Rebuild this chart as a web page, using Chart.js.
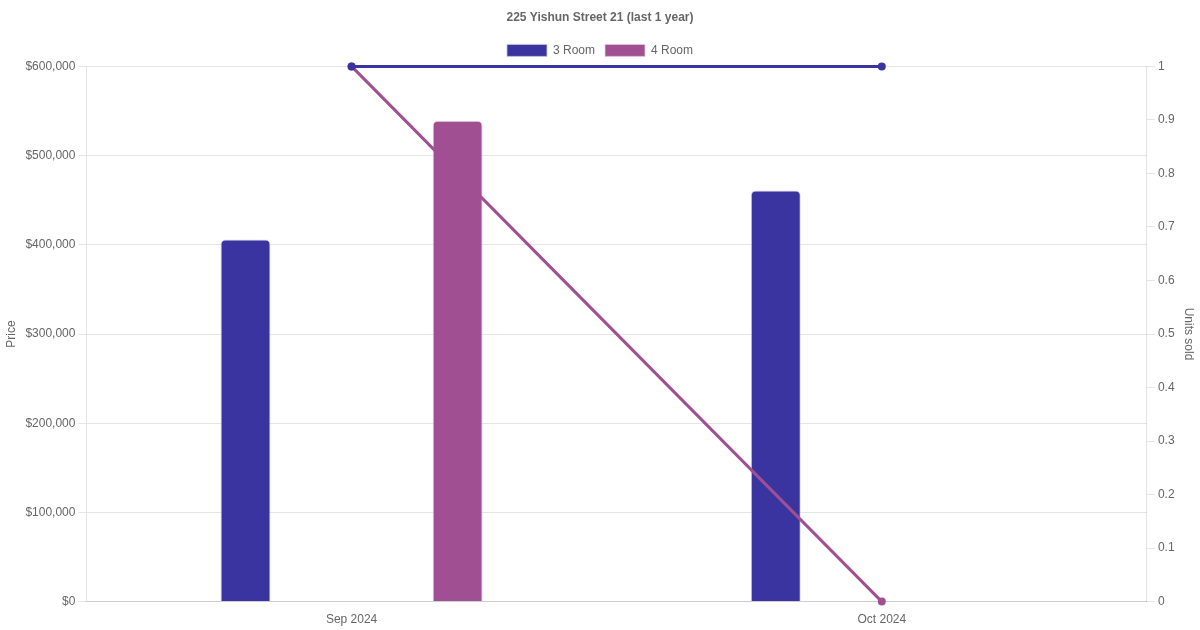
<!DOCTYPE html>
<html>
<head>
<meta charset="utf-8">
<script src="https://cdn.jsdelivr.net/npm/chart.js@4"></script>
<style>
  html, body { margin: 0; padding: 0; background: #fff; }
  #wrap { width: 1200px; height: 630px; }
</style>
</head>
<body>
<div id="wrap"><canvas id="priceChart" width="1200" height="630"></canvas></div>
<script>
// months shown on the x axis
const months = ['Sep 2024', 'Oct 2024']

// median price per flat type
const price3Room = [406000, 461000]
const price4Room = [539000, null]

// units sold per flat type
const units3Room = [1, 1]
const units4Room = [1, 0]

const colour3Room = '#3a34a0'
const colour4Room = '#a05092'

Chart.defaults.font.family = '"Liberation Sans", Arial, sans-serif'
Chart.defaults.font.size = 12
Chart.defaults.color = '#666'

const config = {
    type: 'bar',
    data: {
        labels: months,
        datasets: [{
                label: '3 Room',
                data: price3Room,
                backgroundColor: colour3Room,
                borderColor: 'rgba(200,200,230,0.8)',
                borderWidth: 1,
                borderRadius: 5,
                maxBarThickness: 50,
                yAxisID: 'y',
                order: 2
            },
            {
                label: '4 Room',
                data: price4Room,
                backgroundColor: colour4Room,
                borderColor: 'rgba(230,200,225,0.8)',
                borderWidth: 1,
                borderRadius: 5,
                maxBarThickness: 50,
                yAxisID: 'y',
                order: 2
            },
            {
                type: 'line',
                label: '3 Room units',
                data: units3Room,
                borderColor: colour3Room,
                backgroundColor: colour3Room,
                borderWidth: 3,
                pointRadius: 2.5,
                clip: false,
                yAxisID: 'y1',
                order: 1
            },
            {
                type: 'line',
                label: '4 Room units',
                data: units4Room,
                borderColor: colour4Room,
                backgroundColor: colour4Room,
                borderWidth: 3,
                pointRadius: 2.5,
                clip: false,
                yAxisID: 'y1',
                order: 1
            }
        ]
    },
    options: {
        responsive: false,
        animation: false,
        plugins: {
            title: {
                display: true,
                text: '225 Yishun Street 21 (last 1 year)',
                font: { weight: 'bold', size: 12 },
                padding: { top: 10, bottom: 10 }
            },
            legend: {
                labels: {
                    filter: function(item) { return item.datasetIndex < 2 }
                }
            },
            tooltip: { enabled: false }
        },
        scales: {
            x: {
                grid: { display: false }
            },
            y: {
                position: 'left',
                min: 0,
                max: 600000,
                ticks: {
                    stepSize: 100000,
                    callback: function(v) { return '$' + v.toLocaleString('en-US') }
                },
                title: { display: true, text: 'Price' }
            },
            y1: {
                position: 'right',
                min: 0,
                max: 1,
                ticks: {
                    stepSize: 0.1,
                    callback: function(v) { return String(Math.round(v * 10) / 10) }
                },
                grid: { drawOnChartArea: false },
                title: { display: true, text: 'Units sold' }
            }
        }
    }
}

new Chart(document.getElementById('priceChart').getContext('2d'), config)
</script>
</body>
</html>
